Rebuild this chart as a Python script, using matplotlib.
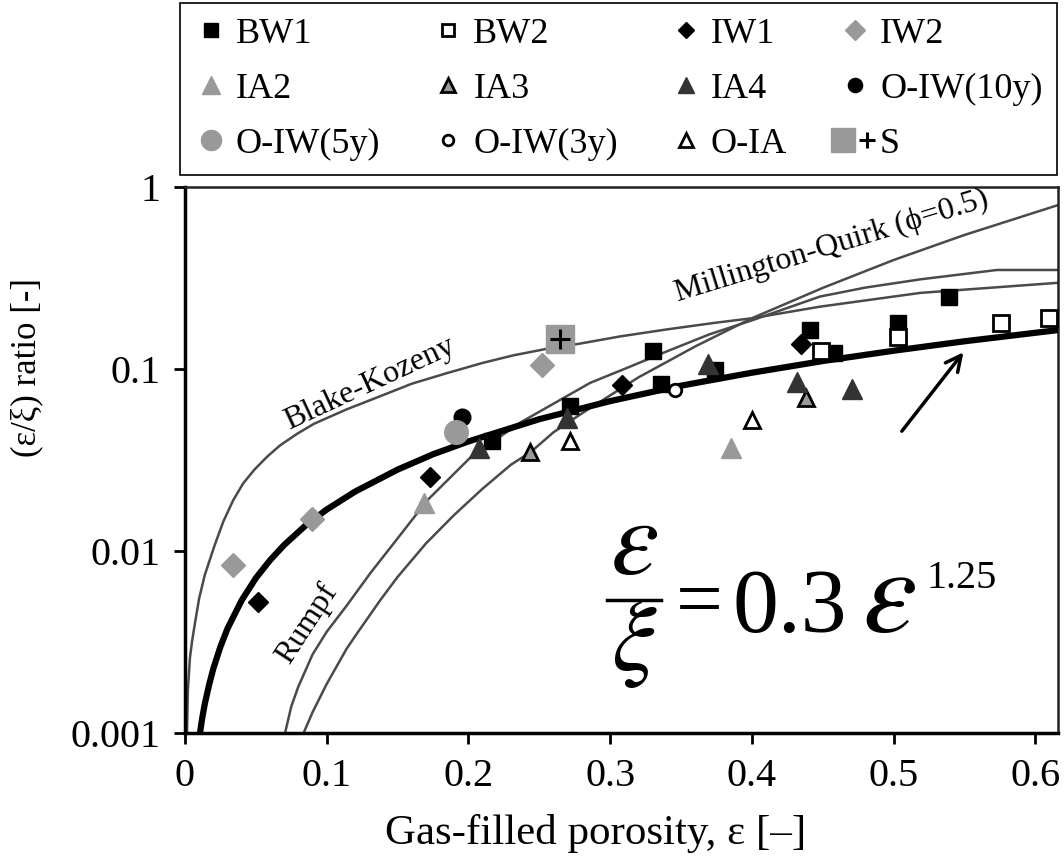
"""
Gas diffusivity ratio vs gas-filled porosity (recreated figure).
"""

import matplotlib
matplotlib.use("Agg")
import matplotlib.pyplot as plt
from matplotlib.lines import Line2D
from matplotlib.legend_handler import HandlerTuple

plt.rcParams["font.family"] = ["Liberation Serif", "DejaVu Serif"]
plt.rcParams["mathtext.fontset"] = "stix"

# =====================================================
# DATA
# =====================================================

# model curves
bk_eps = [0.0014, 0.002, 0.0035, 0.005, 0.007, 0.010, 0.014, 0.021, 0.027,
          0.034, 0.041, 0.049, 0.058, 0.067, 0.079, 0.091, 0.114, 0.138,
          0.16, 0.185, 0.21, 0.232, 0.255, 0.279, 0.307, 0.34, 0.373, 0.40,
          0.448, 0.519, 0.617]
bk_val = [0.001, 0.0017, 0.0026, 0.0032, 0.004, 0.0055, 0.0074, 0.0108,
          0.0145, 0.019, 0.0235, 0.028, 0.033, 0.038, 0.044, 0.050, 0.060,
          0.071, 0.083, 0.095, 0.108, 0.119, 0.129, 0.138, 0.151, 0.165,
          0.179, 0.19, 0.22, 0.262, 0.298]

rumpf_eps = [0.0706, 0.075, 0.08, 0.09, 0.10, 0.114, 0.131, 0.148, 0.171,
             0.202, 0.237, 0.286, 0.31, 0.34, 0.37, 0.40, 0.448, 0.48,
             0.519, 0.573, 0.617]
rumpf_val = [0.001, 0.0014, 0.0018, 0.0027, 0.0036, 0.0050, 0.0076, 0.0112,
             0.019, 0.033, 0.051, 0.084, 0.10, 0.125, 0.155, 0.185, 0.25,
             0.28, 0.311, 0.35, 0.35]

mq_eps = [0.0837, 0.09, 0.1, 0.114, 0.12, 0.138, 0.15, 0.17, 0.19, 0.21,
          0.23, 0.244, 0.26, 0.28, 0.32, 0.36, 0.40, 0.45, 0.50, 0.55, 0.617]
mq_val = [0.001, 0.0013, 0.00186, 0.0029, 0.0034, 0.0054, 0.0072, 0.011,
          0.0158, 0.022, 0.0298, 0.035, 0.0449, 0.057, 0.090, 0.133, 0.19,
          0.279, 0.397, 0.545, 0.80]

fit_eps = [0.0106, 0.012, 0.014, 0.017, 0.02, 0.025, 0.03, 0.04, 0.05, 0.06,
           0.07, 0.085, 0.1, 0.12, 0.15, 0.175, 0.2, 0.25, 0.3, 0.35, 0.4,
           0.45, 0.5, 0.55, 0.617]
fit_val = [0.001, 0.00119, 0.00145, 0.00184, 0.00226, 0.00298, 0.00375,
           0.00536, 0.0071, 0.0089, 0.0108, 0.0138, 0.0169, 0.0212, 0.028,
           0.034, 0.040, 0.053, 0.0666, 0.081, 0.0954, 0.1106, 0.126, 0.142,
           0.164]

# measured data
bw1_eps = [0.2165, 0.2717, 0.330, 0.336, 0.374, 0.441, 0.4576, 0.503, 0.539]
bw1_val = [0.040, 0.063, 0.126, 0.083, 0.099, 0.164, 0.122, 0.178, 0.25]

bw2_eps = [0.449, 0.503, 0.576, 0.610]
bw2_val = [0.125, 0.150, 0.178, 0.191]

iw1_eps = [0.0517, 0.173, 0.308, 0.435]
iw1_val = [0.00526, 0.0256, 0.0817, 0.138]

iw2_eps = [0.0341, 0.0899, 0.2517]
iw2_val = [0.00838, 0.0149, 0.105]

ia2_eps = [0.1687, 0.385]
ia2_val = [0.0183, 0.0367]

ia3_eps = [0.2435, 0.438]
ia3_val = [0.035, 0.069]

ia4_eps = [0.2077, 0.2694, 0.3693, 0.4317, 0.4705]
ia4_val = [0.037, 0.054, 0.107, 0.085, 0.078]

oiw10_eps = [0.1953]
oiw10_val = [0.0547]

oiw5_eps = [0.1913]
oiw5_val = [0.0453]

oiw3_eps = [0.3458]
oiw3_val = [0.0767]

oia_eps = [0.2717, 0.40]
oia_val = [0.040, 0.0525]

s_eps = [0.2646]
s_val = [0.146]

# =====================================================
# FIGURE
# =====================================================

W, H = 1064, 861

fig = plt.figure(figsize=(W / 100, H / 100), dpi=100)


def px(x, y):
    """pixel position (from top-left) to figure fraction"""
    return x / W, 1 - y / H


ax = fig.add_axes([185 / W, 1 - 733 / H, (1058 - 185) / W, (733 - 187) / H])

ax.set_yscale("log")
ax.set_xlim(0, 0.616)
ax.set_ylim(0.001, 1)

curve_color = "#4a4a4a"

ax.plot(bk_eps, bk_val, color=curve_color, lw=1.8, zorder=2)
ax.plot(rumpf_eps, rumpf_val, color=curve_color, lw=1.8, zorder=2)
ax.plot(mq_eps, mq_val, color=curve_color, lw=1.8, zorder=2)
ax.plot(fit_eps, fit_val, color="black", lw=4.5, zorder=3,
        solid_capstyle="round")

gray = "#999999"
dark = "#333333"

series = [
    ("BW1", bw1_eps, bw1_val, dict(marker="s", ms=12, mfc="black", mec="black")),
    ("BW2", bw2_eps, bw2_val, dict(marker="s", ms=11, mfc="white", mec="black", mew=2)),
    ("IW1", iw1_eps, iw1_val, dict(marker="D", ms=10, mfc="black", mec="black")),
    ("IW2", iw2_eps, iw2_val, dict(marker="D", ms=12, mfc=gray, mec=gray)),
    ("IA2", ia2_eps, ia2_val, dict(marker="^", ms=15, mfc=gray, mec=gray)),
    ("IA3", ia3_eps, ia3_val, dict(marker="^", ms=12, mfc=gray, mec="black", mew=2)),
    ("IA4", ia4_eps, ia4_val, dict(marker="^", ms=14, mfc=dark, mec=dark)),
    ("O-IW(10y)", oiw10_eps, oiw10_val, dict(marker="o", ms=12, mfc="black", mec="black")),
    ("O-IW(5y)", oiw5_eps, oiw5_val, dict(marker="o", ms=17, mfc=gray, mec=gray)),
    ("O-IW(3y)", oiw3_eps, oiw3_val, dict(marker="o", ms=9, mfc="white", mec="black", mew=2)),
    ("O-IA", oia_eps, oia_val, dict(marker="^", ms=12, mfc="white", mec="black", mew=2)),
]

handles = []

for name, xs, ys, style in series:

    line, = ax.plot(xs, ys, ls="none", zorder=4, **style)

    handles.append(line)

s_back, = ax.plot(s_eps, s_val, ls="none", marker="s", ms=20,
                  mfc=gray, mec=gray, zorder=4)
s_plus, = ax.plot(s_eps, s_val, ls="none", marker="+", ms=14,
                  mec="black", mew=2.2, zorder=5)

labels = [name for name, *_ in series] + ["S"]
handles.append((s_back, s_plus))

# curve labels
ax.text(0.130, 0.083, "Blake-Kozeny", fontsize=23, rotation=25,
        ha="center", va="center")
ax.text(0.456, 0.47, "Millington-Quirk (\u03d5=0.5)", fontsize=23,
        rotation=17, ha="center", va="center")
ax.text(0.086, 0.0040, "Rumpf", fontsize=23, rotation=57,
        ha="center", va="center")

# arrow to fitted line
ax.annotate(
    "",
    xy=(0.5505, 0.127),
    xytext=(0.5046, 0.0443),
    arrowprops=dict(arrowstyle="->", lw=2.5, color="black",
                    mutation_scale=28)
)

# fitted equation, built from pieces
fig.text(*px(634, 574), r"$\varepsilon$", fontsize=78,
         ha="center", va="baseline")
fig.add_artist(Line2D([607 / W, 661 / W], [1 - 600 / H, 1 - 600 / H],
                      color="black", lw=2.5))
fig.text(*px(634, 670), r"$\xi$", fontsize=72,
         ha="center", va="baseline")
fig.text(*px(676, 626), "=", fontsize=60,
         ha="left", va="baseline")
fig.text(*px(733, 632), "0.3", fontsize=66,
         ha="left", va="baseline")
fig.text(*px(862, 632), r"$\varepsilon$", fontsize=88,
         ha="left", va="baseline")
fig.text(*px(926, 588), "1.25", fontsize=29,
         ha="left", va="baseline")

# axes styling
ax.set_xticks([0, 0.1, 0.2, 0.3, 0.4, 0.5, 0.6])
ax.set_xticklabels(["0", "0.1", "0.2", "0.3", "0.4", "0.5", "0.6"])
ax.set_yticks([0.001, 0.01, 0.1, 1])
ax.set_yticklabels(["0.001", "0.01", "0.1", "1"])
ax.minorticks_off()

ax.tick_params(axis="both", which="major", direction="out", length=8,
               width=2, labelsize=29, pad=10)

for side in ["left", "bottom"]:
    ax.spines[side].set_linewidth(2.5)

for side in ["top", "right"]:
    ax.spines[side].set_linewidth(1.8)
    ax.spines[side].set_color("#222222")

ax.set_xlabel("Gas-filled porosity, \u03b5 [\u2013]", fontsize=31)
ax.xaxis.set_label_coords(0.47, -0.148)
ax.set_ylabel("(\u03b5/\u03be) ratio [-]", fontsize=25)
ax.yaxis.set_label_coords(-0.162, 0.67)

# legend: matplotlib fills column by column, the picture reads row by row
ncol = 4
nrow = 3
order = [r * ncol + c for c in range(ncol) for r in range(nrow)]

leg = fig.legend(
    [handles[i] for i in order],
    [labels[i] for i in order],
    ncol=ncol,
    loc="center",
    bbox_to_anchor=(180 / W, 1 - 175 / H, 877 / W, 172 / H),
    bbox_transform=fig.transFigure,
    mode="expand",
    fontsize=26,
    frameon=True,
    fancybox=False,
    edgecolor="black",
    framealpha=1,
    borderaxespad=0,
    borderpad=0.4,
    handlelength=0.9,
    handletextpad=0.25,
    labelspacing=0.6,
    markerscale=0.85,
    handler_map={tuple: HandlerTuple(ndivide=None)}
)
leg.get_frame().set_linewidth(1.2)

fig.savefig("out.png", dpi=100)
